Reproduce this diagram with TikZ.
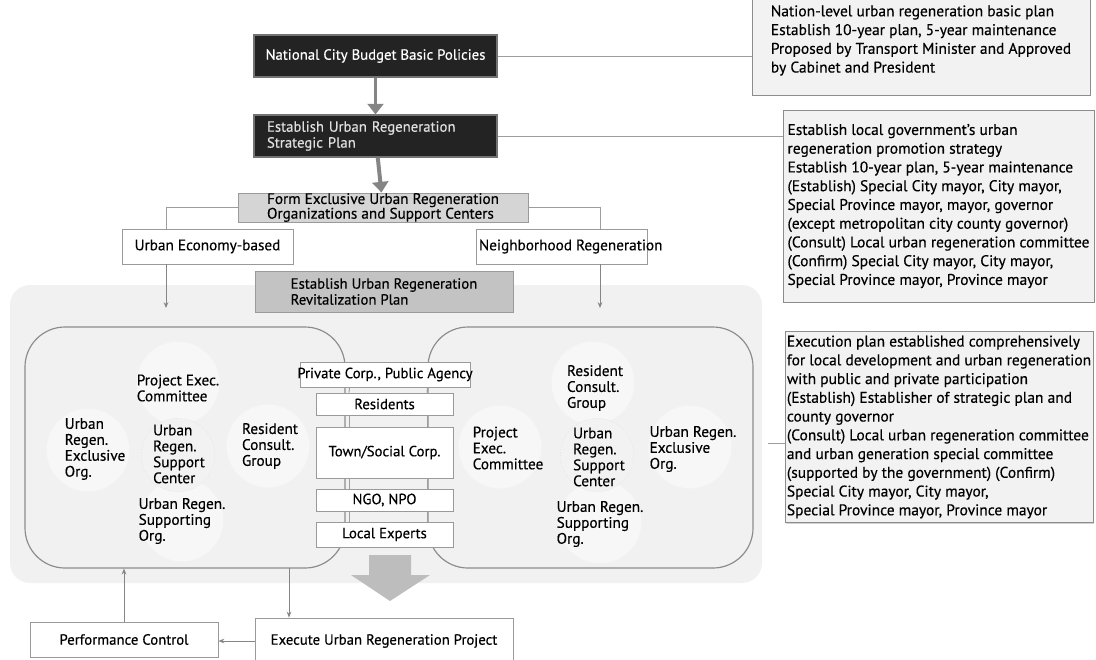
\documentclass[tikz,border=0pt]{standalone}
\usepackage{fontspec}
\setmainfont{PT Sans}[FakeBold=0.35]
\usetikzlibrary{calc,arrows.meta,shadows}
\definecolor{darkfill}{HTML}{232323}
\definecolor{formfill}{HTML}{D5D5D5}
\definecolor{planfill}{HTML}{C3C3C3}
\definecolor{edge}{HTML}{9A9A9A}
\definecolor{panel}{HTML}{F1F1F1}
\definecolor{notefill}{HTML}{F2F2F2}
\definecolor{arrowgrey}{HTML}{858585}
\definecolor{bigarrow}{HTML}{BDBDBD}

\begin{document}
\begin{tikzpicture}[x=0.03cm, y=-0.03cm,
    basefont/.style={font=\fontsize{12.6}{13.6}\selectfont, align=left},
    darkbox/.style={basefont, draw=black!55, line width=1pt, fill=darkfill, text=white},
    greybox/.style={basefont, draw=edge, line width=0.8pt},
    plainbox/.style={basefont, draw=edge, line width=0.8pt, fill=white},
    notebox/.style={font=\fontsize{13.2}{16}\selectfont, align=left, inner xsep=1pt, draw=black!45, line width=0.8pt, fill=notefill,
      drop shadow={shadow xshift=1.2pt, shadow yshift=-1.2pt, opacity=.35}},
    grpbox/.style={draw=black!45, line width=1pt, rounded corners=1.2cm},
    blob/.style={fill=white, fill opacity=.45, draw=black!5},
    centreblob/.style={fill=black!5, draw=black!18, dotted},
    member/.style={basefont, font=\fontsize{13}{13.6}\selectfont},
    fatarrow/.style={arrowgrey, line width=3.4pt, -{Triangle[width=0.48cm, length=0.32cm]}},
    thinarrow/.style={arrowgrey, line width=0.8pt, -{Stealth[length=5pt, width=4pt]}},
    link/.style={arrowgrey!80, line width=0.8pt}
  ]
    \useasboundingbox (0,0) rectangle (1096,659);
    \fill[panel, rounded corners=0.6cm] (10,285) rectangle (762,583);

    \node (grpL) [grpbox, minimum width=9.6cm, minimum height=7.23cm] at (185,447.5) {};
    \node (grpR) [grpbox, minimum width=9.75cm, minimum height=7.23cm] at (590.5,447.5) {};

    \foreach \p in {(178,383),(88,450),(268,446),(182,520),(593,383),(500,447),(690,447),(600,522)}
      \draw[blob] \p circle (1.25cm);
    \foreach \p in {(178,455),(597,455)}
      \draw[centreblob] \p circle (1.1cm);

    \node (pecL) [member] at (178,388) {Project Exec.\\Committee};
    \node (exoL) [member] at (95,449) {Urban\\Regen.\\Exclusive\\Org.};
    \node (supL) [member] at (179,454) {Urban\\Regen.\\Support\\Center};
    \node (rcgL) [member] at (270,446) {Resident\\Consult.\\Group};
    \node (usoL) [member] at (182,521) {Urban Regen.\\Supporting\\Org.};

    \node (rcgR) [member] at (595,388) {Resident\\Consult.\\Group};
    \node (pecR) [member] at (508,448) {Project\\Exec.\\Committee};
    \node (supR) [member] at (599,457) {Urban\\Regen.\\Support\\Center};
    \node (exoR) [member] at (693,449) {Urban Regen.\\Exclusive\\Org.};
    \node (usoR) [member] at (600,524) {Urban Regen.\\Supporting\\Org.};

    \node (priv) [plainbox, minimum width=5.1cm, minimum height=0.75cm, inner sep=0pt] at (385,374.5) {\makebox[0pt]{Private Corp., Public Agency}};
    \node (res) [plainbox, minimum width=4.11cm, minimum height=0.66cm] at (384.5,404) {Residents};
    \node (town) [plainbox, minimum width=4.11cm, minimum height=1.53cm] at (384.5,452.5) {Town/Social Corp.};
    \node (ngo) [plainbox, minimum width=4.11cm, minimum height=0.66cm] at (384.5,500) {NGO, NPO};
    \node (expt) [plainbox, minimum width=4.11cm, minimum height=0.75cm] at (384.5,534.5) {Local Experts};
    \foreach \a/\b in {priv/res,res/town,town/ngo,ngo/expt}{
      \draw[link] ([xshift=-1.065cm]\a.south) -- ([xshift=-1.065cm]\b.north);
      \draw[link] ([xshift=1.275cm]\a.south) -- ([xshift=1.275cm]\b.north);
    }
    \fill[bigarrow] (369,555) -- (411,555) -- (411,575) -- (430,575) -- (390,601) -- (351,575) -- (369,575) -- cycle;

    \node (natl) [darkbox, minimum width=7.29cm, minimum height=1.26cm] at (375.5,56) {National City Budget Basic Policies};
    \node (strat) [darkbox, text=black!12, text width=6.51cm, inner xsep=0.39cm, minimum height=1.26cm] at (375.5,136) {Establish Urban Regeneration\\Strategic Plan};
    \node (form) [greybox, fill=formfill, minimum width=8.7cm, minimum height=0.87cm, inner ysep=0pt,
      font=\fontsize{13}{12.5}\selectfont] at (383,207.5) {Form Exclusive Urban Regeneration\\Organizations and Support Centers};
    \node (econ) [plainbox, minimum width=5.13cm, minimum height=1.05cm, font=\fontsize{13}{14}\selectfont] at (207.5,246.5) {Urban Economy-based};
    \node (nbr) [plainbox, minimum width=5.13cm, minimum height=1.05cm, inner xsep=0.09cm, font=\fontsize{13}{14}\selectfont] at (561.5,246.5) {\makebox[4.95cm][l]{Neighborhood Regeneration}};
    \node (revit) [greybox, fill=planfill, minimum width=7.74cm, minimum height=1.23cm] at (384,291.5) {Establish Urban Regeneration\\Revitalization Plan};

    \draw[fatarrow] (natl) -- (strat);
    \draw[fatarrow] (strat) -- (form);
    \coordinate (econtip) at (166,308);
    \coordinate (nbrtip) at (600,308);
    \draw[link] (form.west) -| (econtip |- econ.north);
    \draw[link] (form.east) -| (nbrtip |- nbr.north);
    \draw[thinarrow] (econtip |- econ.south) -- (econtip);
    \draw[thinarrow] (nbrtip |- nbr.south) -- (nbrtip);

    \node (perf) [plainbox, minimum width=5.64cm, minimum height=1.05cm] at (124,639.5) {Performance Control};
    \node (exec) [plainbox, minimum width=7.74cm, minimum height=1.38cm] at (384,641) {Execute Urban Regeneration Project};
    \coordinate (down) at (289,568);
    \draw[thinarrow] (perf.north) -- (perf.north |- grpL.south);
    \draw[thinarrow] (down) -- (down |- exec.north);
    \draw[thinarrow] (exec.west) -- (exec.west -| perf.east);

    \node (note1) [notebox, minimum width=10.14cm, minimum height=3.27cm] at (921,40.5) {Nation-level urban regeneration basic plan\\Establish 10-year plan, 5-year maintenance\\Proposed by Transport Minister and Approved\\by Cabinet and President};
    \node (note2) [notebox, minimum width=9.33cm, minimum height=5.76cm] at (938.5,206) {Establish local government's urban\\regeneration promotion strategy\\Establish 10-year plan, 5-year maintenance\\(Establish) Special City mayor, City mayor,\\Special Province mayor, mayor, governor\\(except metropolitan city county governor)\\(Consult) Local urban regeneration committee\\(Confirm) Special City mayor, City mayor,\\Special Province mayor, Province mayor};
    \node (note3) [notebox, minimum width=9.24cm, minimum height=5.7cm] at (939,427) {Execution plan established comprehensively\\for local development and urban regeneration\\with public and private participation\\(Establish) Establisher of strategic plan and\\county governor\\(Consult) Local urban regeneration committee\\and urban generation special committee\\(supported by the government) (Confirm)\\Special City mayor, City mayor,\\Special Province mayor, Province mayor};
    \draw[link] (natl.east) -- (natl.east -| note1.west);
    \draw[link] (strat.east) -- (strat.east -| note2.west);
    \coordinate (n3tick) at (768,443);
    \draw[link] (n3tick) -- (n3tick -| note3.west);

    % \draw[help lines, step=50] (0,0) grid (1096,659);
\end{tikzpicture}
\end{document}
